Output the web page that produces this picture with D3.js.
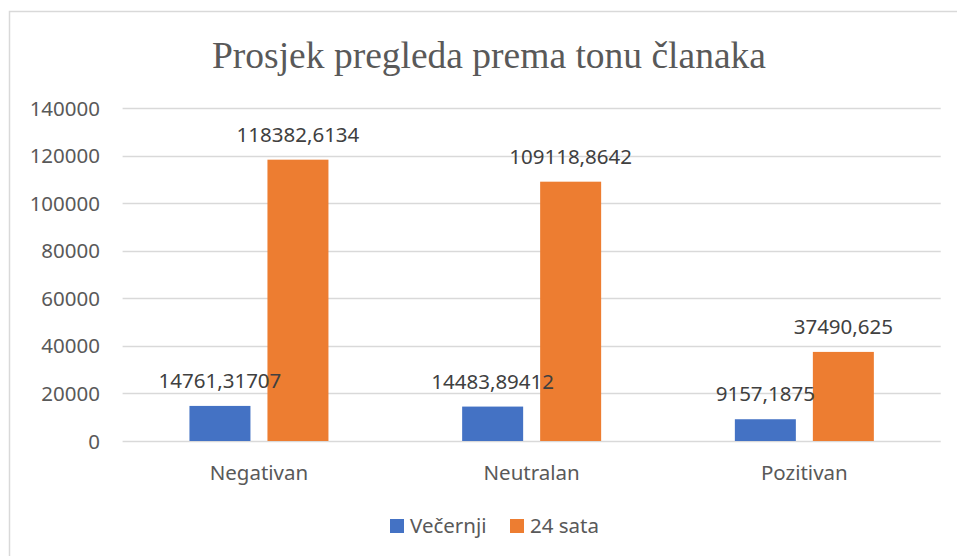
<!DOCTYPE html>
<html><head><meta charset="utf-8">
<script src="https://cdn.jsdelivr.net/npm/d3@7"></script>
<style>body{margin:0;background:#fff;overflow:hidden}</style>
</head><body>
<svg id="c" width="957" height="556"></svg>
<script>
const categories = ["Negativan", "Neutralan", "Pozitivan"];
const seriesNames = ["Večernji", "24 sata"];
const vecernji = [14761.31707, 14483.89412, 9157.1875];
const sata24 = [118382.6134, 109118.8642, 37490.625];
const labelsVecernji = ["14761,31707", "14483,89412", "9157,1875"];
const labels24 = ["118382,6134", "109118,8642", "37490,625"];
const yTicks = [0, 20000, 40000, 60000, 80000, 100000, 120000, 140000];
const colors = ["#4472C4", "#ED7D31"];

const svg = d3.select("#c");
const font = "'Noto Sans', sans-serif";
const txt = "#595959";

svg.append("rect").attr("x", 9.5).attr("y", 11.5).attr("width", 980).attr("height", 580)
  .attr("fill", "#fff").attr("stroke", "#D9D9D9").attr("stroke-width", 1.5);

svg.append("text").attr("x", 489).attr("y", 68).attr("text-anchor", "middle")
  .attr("font-family", "'Liberation Serif', 'Times New Roman', serif").attr("font-size", 37.5)
  .attr("fill", txt).text("Prosjek pregleda prema tonu članaka");

const x0 = d3.scaleBand().domain(categories).range([122.6, 940.7]).paddingInner(0).paddingOuter(0);
const y = d3.scaleLinear().domain([0, 140000]).range([441, 108.3]);

const g = svg.append("g");
g.selectAll("line.grid").data(yTicks).join("line")
  .attr("x1", 122.6).attr("x2", 940.7)
  .attr("y1", d => Math.round(y(d)) + 0.5).attr("y2", d => Math.round(y(d)) + 0.5)
  .attr("stroke", "#D9D9D9").attr("stroke-width", 1.3);

g.selectAll("text.yt").data(yTicks).join("text")
  .attr("x", 100).attr("y", d => y(d) + 7.5).attr("text-anchor", "end")
  .attr("font-family", font).attr("font-size", 20.5).attr("fill", txt).text(d => d);

const bw = 61, gap = 17;
const series = [vecernji, sata24];
const labels = [labelsVecernji, labels24];
const barLeft = (c, si) => {
  const cx = x0(c) + x0.bandwidth() / 2;
  return cx - (bw * 2 + gap) / 2 + si * (bw + gap);
};
series.forEach((vals, si) => {
  categories.forEach((c, i) => {
    g.append("rect").attr("x", barLeft(c, si)).attr("y", y(vals[i])).attr("width", bw)
      .attr("height", y(0) - y(vals[i])).attr("fill", colors[si]);
  });
});
series.forEach((vals, si) => {
  categories.forEach((c, i) => {
    g.append("text").attr("x", barLeft(c, si) + bw / 2).attr("y", y(vals[i]) - 18)
      .attr("text-anchor", "middle").attr("font-family", font).attr("font-size", 20.5)
      .attr("fill", "#404040").text(labels[si][i]);
  });
});

categories.forEach(c => {
  g.append("text").attr("x", x0(c) + x0.bandwidth() / 2).attr("y", 480)
    .attr("text-anchor", "middle").attr("font-family", font).attr("font-size", 20.5)
    .attr("fill", txt).text(c);
});

const legend = [{x: 390, name: seriesNames[0], c: colors[0]}, {x: 510, name: seriesNames[1], c: colors[1]}];
legend.forEach(l => {
  svg.append("rect").attr("x", l.x).attr("y", 519).attr("width", 14).attr("height", 14).attr("fill", l.c);
  svg.append("text").attr("x", l.x + 20).attr("y", 533).attr("font-family", font)
    .attr("font-size", 20.5).attr("fill", txt).text(l.name);
});
</script>
</body></html>
